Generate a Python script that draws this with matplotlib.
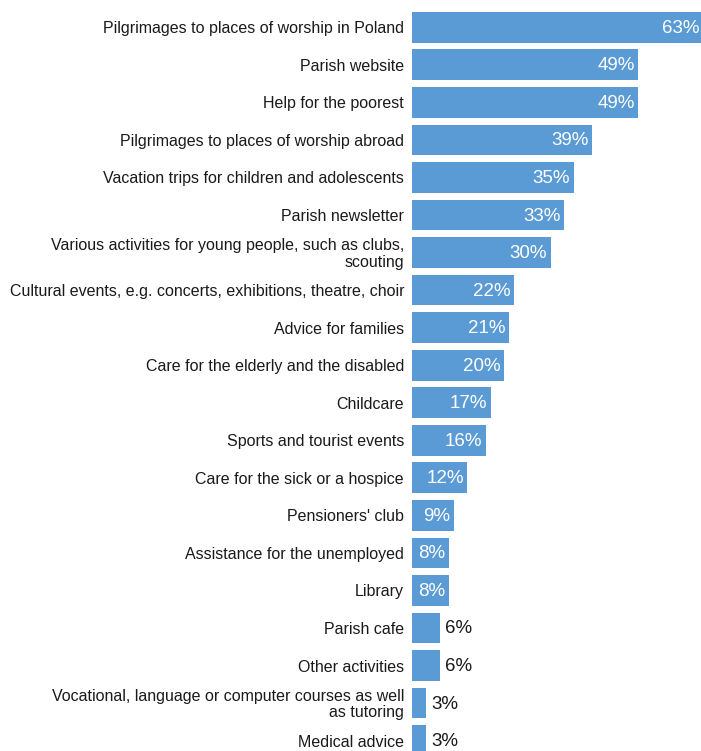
import matplotlib
matplotlib.use("Agg")
import matplotlib.pyplot as plt
from matplotlib.transforms import offset_copy

categories = [
    "Pilgrimages to places of worship in Poland",
    "Parish website",
    "Help for the poorest",
    "Pilgrimages to places of worship abroad",
    "Vacation trips for children and adolescents",
    "Parish newsletter",
    "Various activities for young people, such as clubs,\nscouting",
    "Cultural events, e.g. concerts, exhibitions, theatre, choir",
    "Advice for families",
    "Care for the elderly and the disabled",
    "Childcare",
    "Sports and tourist events",
    "Care for the sick or a hospice",
    "Pensioners' club",
    "Assistance for the unemployed",
    "Library",
    "Parish cafe",
    "Other activities",
    "Vocational, language or computer courses as well\nas tutoring",
    "Medical advice",
]
values = [63, 49, 49, 39, 35, 33, 30, 22, 21, 20, 17, 16, 12, 9, 8, 8, 6, 6, 3, 3]

plt.rcParams['font.family'] = ['Liberation Sans', 'DejaVu Sans']

W, H = 701, 751
fig = plt.figure(figsize=(W / 100, H / 100), dpi=100)
x0 = 412
ax = fig.add_axes([x0 / W, 0, (W - x0) / W, 1])
px_per_unit = 4.62
ax.set_xlim(0, (W - x0) / px_per_unit)
ax.set_ylim(19.277, -0.727)

color = "#5B9BD5"
pos = list(range(len(values)))
ax.barh(pos, values, height=0.818, color=color)

lab_tr = offset_copy(ax.transData, fig=fig, x=0, y=-1.5, units="dots")
val_tr = offset_copy(ax.transData, fig=fig, x=0, y=-1.0, units="dots")
for i, (c, v) in enumerate(zip(categories, values)):
    ax.text(-8 / px_per_unit, i, c, ha="right", va="center", fontsize=11.5,
            color="#1a1a1a", linespacing=1.15, clip_on=False, transform=lab_tr)
    if v >= 8:
        ax.text(v - 3.5 / px_per_unit, i, f"{v}%", ha="right", va="center",
                fontsize=13.5, color="white", transform=val_tr)
    else:
        ax.text(v + 5.5 / px_per_unit, i, f"{v}%", ha="left", va="center",
                fontsize=13.5, color="#1a1a1a", transform=val_tr)

ax.axis("off")
fig.savefig("out.png", dpi=100)
